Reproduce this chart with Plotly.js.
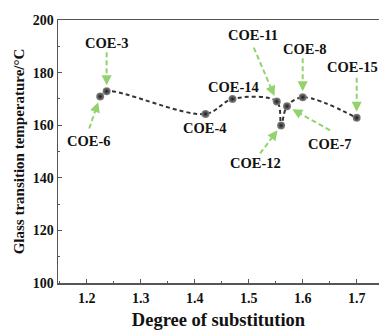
<!DOCTYPE html>
<html><head><meta charset="utf-8">
<script src="https://cdn.plot.ly/plotly-3.0.1.min.js"></script>
<style>html,body{margin:0;padding:0;background:#fff}#c{width:379px;height:331px}</style>
</head><body><div id="c"></div>
<script>
const samples = ["COE-6","COE-3","COE-4","COE-14","COE-11","COE-12","COE-7","COE-8","COE-15"];
const degree = [1.225, 1.237, 1.420, 1.470, 1.552, 1.560, 1.571, 1.600, 1.700];
const tg = [170.9, 172.9, 164.3, 170.0, 169.0, 159.9, 167.2, 170.6, 162.8];
const xTicks = [1.2, 1.3, 1.4, 1.5, 1.6, 1.7];
const yTicks = [100, 120, 140, 160, 180, 200];

// label placement in px relative to each point (screen coords, y down);
// tail = where the dashed arrow starts (null = no arrow)
const labelStyle = {
  "COE-6":  {tx:-11, ty:44, tail:[-11,32]},
  "COE-3":  {tx:0,   ty:-48, tail:[0,-39]},
  "COE-4":  {tx:0,   ty:14, tail:null},
  "COE-14": {tx:1,   ty:-12, tail:null},
  "COE-11": {tx:-24, ty:-67, tail:[-23,-54]},
  "COE-12": {tx:-26, ty:38, tail:[-21,28]},
  "COE-7":  {tx:43,  ty:38, tail:[43,24]},
  "COE-8":  {tx:2,   ty:-48, tail:[0,-39]},
  "COE-15": {tx:-4,  ty:-51, tail:[0,-40]}
};
const font = {family:'"Liberation Serif", "Times New Roman", serif', color:'#111'};
const green = '#93d26f';
const standoff = 6;

const annotations = [];
const shapes = [];
samples.forEach((s,i)=>{
  const st = labelStyle[s];
  annotations.push({x:degree[i], y:tg[i], xref:'x', yref:'y', text:'<b>'+s+'</b>',
    font:Object.assign({size:14.5}, font), showarrow:false, xshift:st.tx, yshift:-st.ty});
  if (st.tail) {
    const [dx, dy] = st.tail;
    const L = Math.hypot(dx, dy), ux = dx/L, uy = dy/L;
    const hx = ux*(standoff+4), hy = uy*(standoff+4);
    shapes.push({type:'line', xref:'x', yref:'y', xsizemode:'pixel', ysizemode:'pixel',
      xanchor:degree[i], yanchor:tg[i], x0:dx, y0:-dy, x1:hx, y1:-hy,
      line:{color:green, width:2, dash:'5px,3px'}});
    annotations.push({x:degree[i], y:tg[i], xref:'x', yref:'y', text:'', showarrow:true,
      ax:ux*14, ay:uy*14, arrowcolor:green, arrowwidth:2, arrowhead:2, arrowsize:1,
      standoff:standoff});
  }
});

const trace = {
  x: degree, y: tg, mode:'lines+markers', type:'scatter',
  line:{shape:'spline', smoothing:1, color:'#333', width:2, dash:'4px,3px'},
  marker:{size:8, color:'#888', gradient:{type:'radial', color:'#1a1a1a'}},
  hoverinfo:'none'
};

const axisCommon = {
  showline:true, linecolor:'#555', linewidth:1.5, showgrid:false, zeroline:false,
  ticks:'inside', ticklen:4, tickwidth:1.2, tickcolor:'#555',
  tickfont:Object.assign({size:14}, font),
  minor:{ticks:'inside', ticklen:2, tickwidth:1, tickcolor:'#555'}
};

const layout = {
  width:379, height:331,
  margin:{l:58, r:0, t:20, b:48},
  paper_bgcolor:'#fff', plot_bgcolor:'#fff',
  showlegend:false,
  xaxis:Object.assign({}, axisCommon, {
    range:[1.1469, 1.7413], tickvals:xTicks, ticktext:xTicks.map(v=>'<b>'+v.toFixed(1)+'</b>'),
    minor:Object.assign({}, axisCommon.minor, {dtick:0.05, tick0:1.15}),
    mirror:true, ticklabelstandoff:2,
    title:{text:'<b>Degree of substitution</b>', font:Object.assign({size:18.5}, font), standoff:8}
  }),
  yaxis:Object.assign({}, axisCommon, {
    range:[100, 200], tickvals:yTicks, ticktext:yTicks.map(v=>'<b>'+v+'</b>'),
    minor:Object.assign({}, axisCommon.minor, {dtick:10, tick0:100}),
    mirror:false,
    title:{text:'<b>Glass transition temperature/°C</b>', font:Object.assign({size:15}, font), standoff:4}
  }),
  shapes: shapes,
  annotations: annotations
};

Plotly.newPlot('c', [trace], layout, {staticPlot:true, displayModeBar:false});
</script>
</body></html>
